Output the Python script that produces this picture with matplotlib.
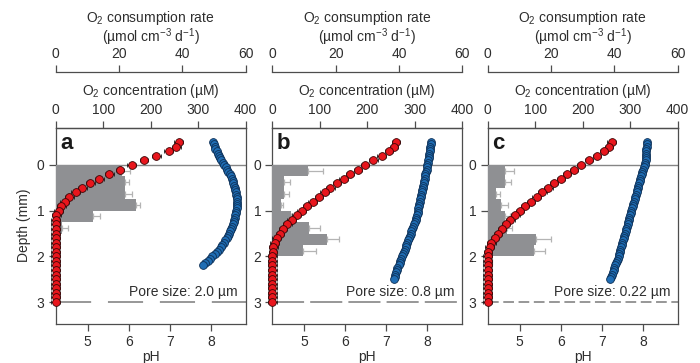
import numpy as np
import matplotlib
matplotlib.use("Agg")
import matplotlib.pyplot as plt

plt.rcParams['font.family'] = ['Liberation Sans', 'DejaVu Sans']
plt.rcParams['mathtext.default'] = 'regular'
plt.rcParams['font.size'] = 10

# ---- data ----
panel_letters = ['a', 'b', 'c']
pore_labels = ['Pore size: 2.0 \u00b5m', 'Pore size: 0.8 \u00b5m', 'Pore size: 0.22 \u00b5m']

# O2 concentration profiles (uM), one point every 0.1 mm
o2_depth = [-0.5, -0.4, -0.3, -0.2, -0.1, 0.0, 0.1, 0.2, 0.3, 0.4, 0.5, 0.6,
            0.7, 0.8, 0.9, 1.0, 1.1, 1.2, 1.3, 1.4, 1.5, 1.6, 1.7, 1.8,
            1.9, 2.0, 2.1, 2.2, 2.3, 2.4, 2.5, 2.6, 2.7, 2.8, 2.9, 3.0]
o2_a = [259, 254, 238, 212, 186, 160, 135, 113, 92, 73, 56, 42,
        29, 19, 12, 6, 1.5, 0, 0, 0, 0, 0, 0, 0,
        0, 0, 0, 0, 0, 0, 0, 0, 0, 0, 0, 0]
o2_b = [260, 256, 246, 230, 213, 195, 180, 164, 150, 136, 122, 110,
        98, 85, 73, 62, 51, 41, 32, 23, 16, 9, 5, 2,
        1, 0, 0, 0, 0, 0, 0, 0, 0, 0, 0, 0]
o2_c = [261, 255, 245, 230, 213, 196, 182, 167, 154, 140, 128, 115,
        103, 91, 79, 68, 58, 48, 39, 30, 22, 15, 8, 4,
        1, 0, 0, 0, 0, 0, 0, 0, 0, 0, 0, 0]
o2_err = 9

# pH profiles, one point every 0.05 mm
ph_depth_a = [-0.50, -0.45, -0.40, -0.35, -0.30, -0.25, -0.20, -0.15, -0.10, -0.05,
              0.00, 0.05, 0.10, 0.15, 0.20, 0.25, 0.30, 0.35, 0.40, 0.45,
              0.50, 0.55, 0.60, 0.65, 0.70, 0.75, 0.80, 0.85, 0.90, 0.95,
              1.00, 1.05, 1.10, 1.15, 1.20, 1.25, 1.30, 1.35, 1.40, 1.45,
              1.50, 1.55, 1.60, 1.65, 1.70, 1.75, 1.80, 1.85, 1.90, 1.95,
              2.00, 2.05, 2.10, 2.15, 2.20]
ph_a = [8.06, 8.07, 8.09, 8.11, 8.14, 8.17, 8.20, 8.23, 8.26, 8.29,
        8.32, 8.36, 8.39, 8.42, 8.46, 8.48, 8.51, 8.53, 8.55, 8.57,
        8.58, 8.60, 8.61, 8.62, 8.63, 8.64, 8.64, 8.64, 8.63, 8.63,
        8.62, 8.61, 8.60, 8.59, 8.57, 8.56, 8.54, 8.52, 8.50, 8.47,
        8.44, 8.42, 8.39, 8.35, 8.32, 8.28, 8.24, 8.19, 8.15, 8.10,
        8.04, 7.98, 7.92, 7.86, 7.80]
ph_depth_bc = [-0.50, -0.45, -0.40, -0.35, -0.30, -0.25, -0.20, -0.15, -0.10, -0.05,
               0.00, 0.05, 0.10, 0.15, 0.20, 0.25, 0.30, 0.35, 0.40, 0.45,
               0.50, 0.55, 0.60, 0.65, 0.70, 0.75, 0.80, 0.85, 0.90, 0.95,
               1.00, 1.05, 1.10, 1.15, 1.20, 1.25, 1.30, 1.35, 1.40, 1.45,
               1.50, 1.55, 1.60, 1.65, 1.70, 1.75, 1.80, 1.85, 1.90, 1.95,
               2.00, 2.05, 2.10, 2.15, 2.20, 2.25, 2.30, 2.35, 2.40, 2.45, 2.50]
ph_b = [8.08, 8.08, 8.07, 8.07, 8.06, 8.05, 8.04, 8.03, 8.02, 8.01,
        8.00, 7.99, 7.98, 7.97, 7.95, 7.94, 7.93, 7.92, 7.91, 7.90,
        7.89, 7.88, 7.87, 7.85, 7.84, 7.82, 7.81, 7.80, 7.79, 7.78,
        7.77, 7.76, 7.74, 7.72, 7.71, 7.69, 7.67, 7.65, 7.63, 7.61,
        7.59, 7.57, 7.55, 7.53, 7.51, 7.49, 7.47, 7.45, 7.43, 7.40,
        7.38, 7.36, 7.34, 7.32, 7.30, 7.27, 7.25, 7.24, 7.22, 7.21, 7.19]
ph_c = [8.10, 8.10, 8.10, 8.09, 8.09, 8.08, 8.08, 8.07, 8.07, 8.06,
        8.05, 8.03, 8.01, 7.99, 7.98, 7.96, 7.94, 7.93, 7.91, 7.89,
        7.88, 7.86, 7.85, 7.83, 7.81, 7.80, 7.78, 7.77, 7.75, 7.74,
        7.72, 7.71, 7.69, 7.67, 7.66, 7.64, 7.63, 7.61, 7.60, 7.58,
        7.57, 7.55, 7.53, 7.52, 7.50, 7.49, 7.47, 7.45, 7.44, 7.42,
        7.41, 7.39, 7.37, 7.35, 7.33, 7.31, 7.29, 7.27, 7.25, 7.23, 7.21]

# O2 consumption rate (umol cm-3 d-1) in 0.25 mm layers
rate_top = [0.0, 0.25, 0.5, 0.75, 1.0, 1.25, 1.5, 1.75, 2.0]
rate_a = [21.0, 22.0, 22.0, 25.3, 11.8, 2.0]
rate_a_err = [2.5, 1.3, 2.2, 1.4, 2.2, 1.9]
rate_b = [11.2, 3.8, 3.8, 2.6, 5.8, 11.6, 17.4, 9.6]
rate_b_err = [4.9, 1.8, 1.5, 0.8, 1.5, 3.5, 3.7, 4.2]
rate_c = [5.5, 5.5, 2.6, 4.1, 5.5, 6.0, 15.2, 14.6, 0.5]
rate_c_err = [2.9, 2.0, 1.3, 2.3, 1.5, 1.6, 4.7, 3.5, 1.0]

panels = [
    (o2_a, ph_depth_a, ph_a, rate_a, rate_a_err, (23, 11)),
    (o2_b, ph_depth_bc, ph_b, rate_b, rate_b_err, (21, 4)),
    (o2_c, ph_depth_bc, ph_c, rate_c, rate_c_err, (7, 3)),
]

TXT = '#2e2e2e'
SPINE = '#4d4d4d'
FS = 10
lefts = [0.0796, 0.3890, 0.6967]

fig = plt.figure(figsize=(7, 3.63), dpi=100)

for i, (o2, phd, ph, rate, rerr, dash) in enumerate(panels):
    ax = fig.add_axes([lefts[i], 0.1088, 0.2714, 0.5386])
    ax.set_xlim(4.22, 8.85)
    ax.set_ylim(3.47, -0.81)

    ax_rate = ax.twiny()
    ax_rate.set_xlim(0, 60)
    ax_o2 = ax.twiny()
    ax_o2.set_xlim(0, 400)

    # layer lines
    ax.axhline(0, color='#858585', lw=1.0, zorder=1)
    ax.axhline(3, color='#7a7a7a', lw=1.1, dashes=dash, zorder=1)

    # pH profile
    ax.plot(ph, phd, 'o', ms=5.6, mfc='#1f6db4', mec='#0d2f55', mew=0.6,
            zorder=3, clip_on=False)

    # consumption rate bars
    n = len(rate)
    centers = [t + 0.125 for t in rate_top[:n]]
    ax_rate.barh(centers, rate, height=0.25, color='#8f9093', linewidth=0,
                 xerr=[np.zeros(n), rerr],
                 error_kw=dict(ecolor='#b4b4b4', elinewidth=0.9, capsize=2.0,
                               capthick=0.9))

    # O2 profile
    cont = ax_o2.errorbar(o2, o2_depth, xerr=o2_err, fmt='o', ms=5.6,
                          mfc='#e8161d', mec='#3a0505', mew=0.6,
                          ecolor='#1a1a1a', elinewidth=0.7, capsize=1.6,
                          capthick=0.7, zorder=4)
    for art in cont.get_children():
        art.set_clip_on(False)

    # axes styling
    for a in (ax, ax_rate, ax_o2):
        for s in a.spines.values():
            s.set_color(SPINE)
            s.set_linewidth(0.9)
        a.tick_params(colors=SPINE, labelcolor=TXT, width=0.9, length=5,
                      direction='out', labelsize=FS, pad=3)

    ax.tick_params(top=False, right=False)
    ax.set_xticks([5, 6, 7, 8])
    ax.set_yticks([0, 1, 2, 3])
    ax.set_xlabel('pH', color=TXT, fontsize=FS, labelpad=1)
    if i == 0:
        ax.set_ylabel('Depth (mm)', color=TXT, fontsize=FS, labelpad=4)

    for s in ('left', 'right', 'bottom'):
        ax_rate.spines[s].set_visible(False)
        ax_o2.spines[s].set_visible(False)
    ax_rate.spines['top'].set_position(('outward', 40))
    ax_rate.set_xticks([0, 20, 40, 60])
    ax_rate.set_xlabel('O$_2$ consumption rate\n(\u00b5mol cm$^{-3}$ d$^{-1}$)',
                       color=TXT, fontsize=FS, labelpad=4, linespacing=0.95)
    ax_o2.set_xticks([0, 100, 200, 300, 400])
    ax_o2.set_xlabel('O$_2$ concentration (\u00b5M)', color=TXT, fontsize=FS,
                     labelpad=6)

    ax.text(0.022, 0.893, panel_letters[i], transform=ax.transAxes,
            fontsize=16, fontweight='bold', color='#1a1a1a', va='baseline')
    ax.text(0.96, 2.87, pore_labels[i], transform=ax.get_yaxis_transform(),
            ha='right', va='baseline', color=TXT, fontsize=FS, zorder=5)

fig.savefig('out.png', dpi=100)
